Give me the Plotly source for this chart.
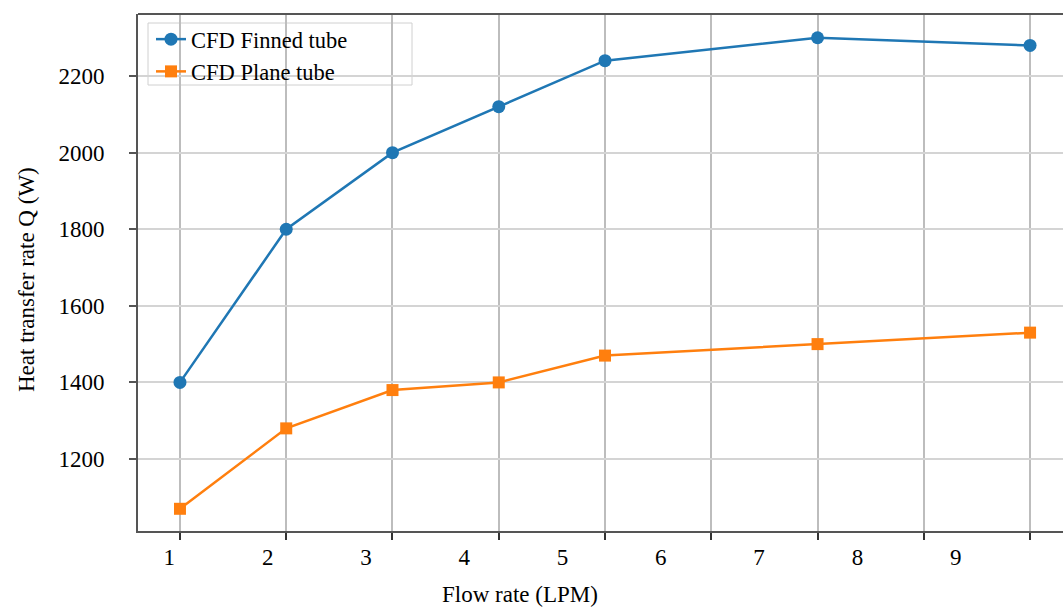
import plotly.graph_objects as go

# Data
flow_rate = [1, 2, 3, 4, 5, 7, 9]
finned_tube = [1400, 1800, 2000, 2120, 2240, 2300, 2280]
plane_tube = [1070, 1280, 1380, 1400, 1470, 1500, 1530]
x_tick_labels = ["1", "2", "3", "4", "5", "6", "7", "8", "9"]
y_ticks = [1200, 1400, 1600, 1800, 2000, 2200]

FONT = "Liberation Serif"
FS = 23
BLUE = "#1f77b4"
ORANGE = "#ff7f0e"

L, R, T, B, W, H = 138, 0, 14, 76, 1063, 607
PW, PH = W - L - R, H - T - B


def px_x(p):
    return (p - L) / PW


def px_y(p):
    return (H - B - p) / PH


fig = go.Figure()
fig.add_trace(go.Scatter(
    x=flow_rate, y=finned_tube, name="CFD Finned tube",
    mode="lines+markers",
    line=dict(color=BLUE, width=2.5),
    marker=dict(symbol="circle", size=13, color=BLUE),
))
fig.add_trace(go.Scatter(
    x=flow_rate, y=plane_tube, name="CFD Plane tube",
    mode="lines+markers",
    line=dict(color=ORANGE, width=2.5),
    marker=dict(symbol="square", size=12, color=ORANGE),
))

xr = [0.605, 9.31]
# tick labels in the reference are drawn slightly offset from the grid/tick marks
label_pos = [0.9 + 0.925 * i for i in range(len(x_tick_labels))]

fig.update_layout(
    width=W, height=H,
    margin=dict(l=L, r=R, t=T, b=B),
    paper_bgcolor="white", plot_bgcolor="white",
    font=dict(family=FONT, size=FS, color="black"),
    showlegend=True,
    legend=dict(
        x=px_x(151), y=px_y(18), xanchor="left", yanchor="top",
        bgcolor="rgba(0,0,0,0)", borderwidth=0,
        font=dict(family=FONT, size=22.5, color="black"),
        tracegroupgap=0, itemwidth=30,
    ),
    xaxis=dict(
        range=xr, tickmode="linear", tick0=1, dtick=1,
        showticklabels=False, ticks="outside", ticklen=7, tickwidth=2, tickcolor="#333",
        showgrid=True, gridcolor="#bdbdbd", gridwidth=1.5,
        showline=True, linecolor="#555", linewidth=2, mirror=False,
        zeroline=False,
    ),
    xaxis2=dict(
        range=xr, overlaying="x", side="bottom", anchor="y",
        tickmode="array", tickvals=label_pos, ticktext=x_tick_labels,
        ticks="", showgrid=False, showline=False, zeroline=False,
        tickfont=dict(family=FONT, size=FS, color="black"),
        ticklabelstandoff=10,
    ),
    yaxis=dict(
        range=[1012, 2362], tickmode="array", tickvals=y_ticks,
        ticks="outside", ticklen=7, tickwidth=2, tickcolor="#555",
        showgrid=True, gridcolor="#d4d4d4", gridwidth=1.5,
        showline=True, linecolor="#555", linewidth=2,
        zeroline=False, ticklabelstandoff=20,
        tickfont=dict(family=FONT, size=FS, color="black"),
    ),
    shapes=[
        dict(type="line", xref="paper", yref="paper", x0=0, x1=1, y0=1, y1=1,
             line=dict(color="#555", width=2)),
        dict(type="rect", xref="paper", yref="paper", layer="between",
             x0=px_x(148), x1=px_x(412), y0=px_y(85), y1=px_y(23),
             fillcolor="white", line=dict(color="#d0d0d0", width=1)),
    ],
    annotations=[
        dict(text="Flow rate (LPM)", xref="paper", yref="paper",
             x=px_x(520), y=px_y(594), xanchor="center", yanchor="middle",
             showarrow=False, font=dict(family=FONT, size=FS, color="black")),
        dict(text="Heat transfer rate Q (W)", xref="paper", yref="paper",
             x=px_x(27), y=px_y(280), xanchor="center", yanchor="middle",
             textangle=-90, showarrow=False, font=dict(family=FONT, size=FS, color="black")),
    ],
)
# invisible trace on xaxis2 so the overlay axis is rendered
fig.add_trace(go.Scatter(x=[xr[0]], y=[1500], xaxis="x2", mode="markers",
                         marker=dict(opacity=0), showlegend=False, hoverinfo="skip"))

fig.write_html("out.html")
